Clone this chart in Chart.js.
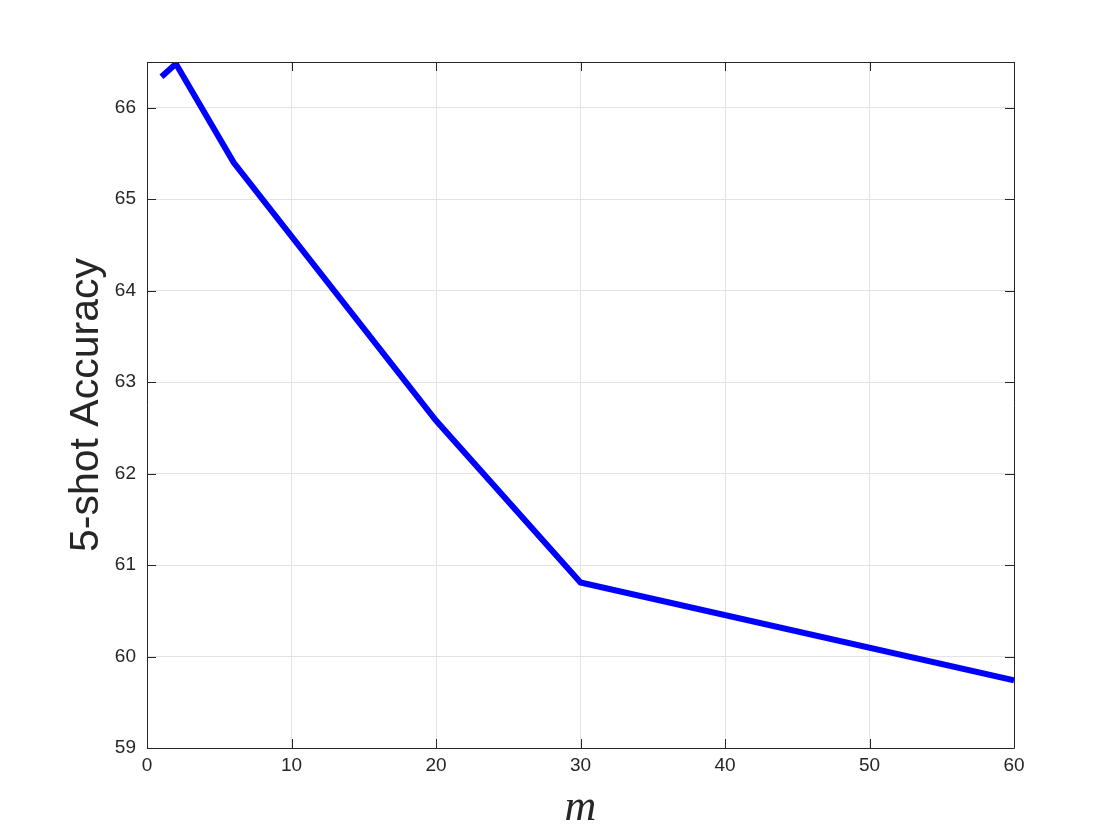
<!DOCTYPE html>
<html>
<head>
<meta charset="utf-8">
<script src="https://cdn.jsdelivr.net/npm/chart.js@4"></script>
<style>
  body { margin: 0; background: #fff; }
  #wrap { width: 1120px; height: 840px; }
</style>
</head>
<body>
<div id="wrap"><canvas id="mycanvas" width="1120" height="840"></canvas></div>
<script>
// values
var mValues = [1, 2, 6, 20, 30, 60];
var accuracy = [66.34, 66.48, 65.40, 62.58, 60.81, 59.74];
var xTicks = [0, 10, 20, 30, 40, 50, 60];
var yTicks = [59, 60, 61, 62, 63, 64, 65, 66];

var points = [];
for (var i in mValues) {
	points.push({x: mValues[i], y: accuracy[i]});
}

// matlab style box + inward ticks
var boxPlugin = {
	id: 'box',
	afterDatasetsDraw: function(chart) {
		var ctx = chart.ctx;
		var a = chart.chartArea;
		var xs = chart.scales.x, ys = chart.scales.y;
		ctx.save();
		ctx.strokeStyle = '#262626';
		ctx.lineWidth = 1;
		ctx.beginPath();
		ctx.rect(Math.round(a.left) + 0.5, Math.round(a.top) + 0.5, Math.round(a.right - a.left), Math.round(a.bottom - a.top));
		xTicks.forEach(function(v) {
			var px = Math.round(xs.getPixelForValue(v)) + 0.5;
			ctx.moveTo(px, a.bottom); ctx.lineTo(px, a.bottom - 9);
			ctx.moveTo(px, a.top); ctx.lineTo(px, a.top + 9);
		});
		yTicks.forEach(function(v) {
			var py = Math.round(ys.getPixelForValue(v)) + 0.5;
			ctx.moveTo(a.left, py); ctx.lineTo(a.left + 9, py);
			ctx.moveTo(a.right, py); ctx.lineTo(a.right - 9, py);
		});
		ctx.stroke();
		ctx.restore();
	}
};

var ctx = document.getElementById('mycanvas');

var chart = new Chart(ctx, {
	type: 'line',
	data: {
		datasets: [{
			label: '5-shot Accuracy',
			data: points,
			borderColor: '#0000ff',
			backgroundColor: '#0000ff',
			borderWidth: 6,
			pointRadius: 0,
			tension: 0,
			borderJoinStyle: 'miter',
			fill: false
		}]
	},
	options: {
		responsive: false,
		animation: false,
		layout: { padding: { top: 62, right: 106, left: 0, bottom: 0 } },
		plugins: {
			legend: { display: false },
			tooltip: { enabled: false }
		},
		scales: {
			x: {
				type: 'linear',
				min: 0,
				max: 60,
				afterBuildTicks: function(scale) {
					scale.ticks = xTicks.map(function(v) { return {value: v}; });
				},
				afterFit: function(scale) { scale.height = 92; },
				grid: { color: '#e3e3e3', drawTicks: false },
				border: { display: false },
				ticks: {
					color: '#262626',
					padding: 6,
					maxRotation: 0,
					font: { family: 'Liberation Sans, Arial, sans-serif', size: 19 }
				},
				title: {
					display: true,
					text: 'm',
					color: '#262626',
					padding: { top: 4, bottom: 5 },
					font: { family: 'Liberation Serif, DejaVu Serif, serif', size: 44, style: 'italic' }
				}
			},
			y: {
				type: 'linear',
				min: 59,
				max: 66.5,
				afterBuildTicks: function(scale) {
					scale.ticks = yTicks.map(function(v) { return {value: v}; });
				},
				afterFit: function(scale) { scale.width = 147; },
				grid: { color: '#e3e3e3', drawTicks: false },
				border: { display: false },
				ticks: {
					color: '#262626',
					padding: 11,
					font: { family: 'Liberation Sans, Arial, sans-serif', size: 19 }
				},
				title: {
					display: true,
					text: '5-shot Accuracy',
					color: '#262626',
					padding: { top: 62, bottom: 0 },
					font: { family: 'Liberation Sans, Arial, sans-serif', size: 41 }
				}
			}
		}
	},
	plugins: [boxPlugin]
});
</script>
</body>
</html>
